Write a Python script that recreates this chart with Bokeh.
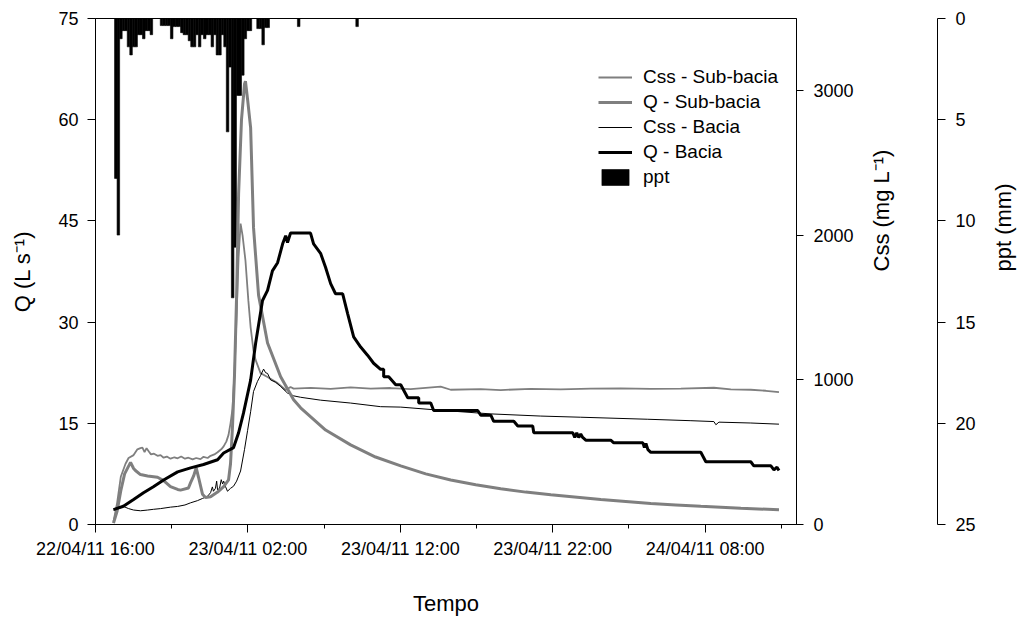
import math
import pandas as pd
from bokeh.plotting import figure
from bokeh.models import (Range1d, LinearAxis, FixedTicker, DatetimeTickFormatter,
                          ColumnDataSource, Legend, LegendItem)
from bokeh.embed import file_html
from bokeh.resources import INLINE

# ---------------- data ----------------
T0 = pd.Timestamp("2011-04-22 16:00")
T_END = pd.Timestamp("2011-04-24 14:00")

# Q - Sub-bacia (hours since T0, L/s)
qsub_h = [1.18, 1.42, 1.66, 1.91, 2.30, 2.50, 2.62, 2.95, 3.42, 4.07,
          4.47, 4.92, 5.39, 5.58, 6.10, 6.24, 6.44, 6.61, 6.76, 7.02,
          7.22, 7.55, 8.01, 8.41, 8.73, 8.86, 8.99, 9.12, 9.26, 9.39,
          9.58, 9.78, 9.84, 9.98, 10.18, 10.37, 10.70, 11.29, 12.15, 13.00,
          13.46, 15.10, 16.74, 18.38, 20.03, 21.67, 23.31, 24.95, 26.59, 28.23,
          29.88, 33.16, 34.80, 36.44, 38.08, 39.72, 42.35, 44.85]
qsub_v = [0.2, 2.0, 5.0, 7.5, 9.2, 8.3, 8.0, 7.4, 7.2, 7.0,
          6.5, 5.6, 5.2, 5.1, 5.4, 6.2, 7.2, 8.4, 7.0, 4.5,
          4.0, 4.1, 4.8, 5.6, 6.6, 9.0, 14.5, 22.0, 34.0, 49.0,
          60.0, 65.3, 65.7, 63.0, 58.8, 44.0, 34.0, 26.9, 21.9, 18.5,
          17.3, 14.0, 11.8, 10.0, 8.7, 7.5, 6.6, 5.9, 5.3, 4.8,
          4.4, 3.7, 3.4, 3.1, 2.9, 2.7, 2.4, 2.2]

# Css - Sub-bacia (hours since T0, mg/L)
csub_h = [1.18, 1.42, 1.66, 1.97, 2.17, 2.50, 2.75, 2.95, 3.08, 3.22,
          3.35, 3.50, 3.64, 3.84, 4.07, 4.27, 4.47, 4.68, 4.92, 5.18,
          5.39, 5.62, 5.87, 6.10, 6.37, 6.61, 6.89, 7.09, 7.36, 7.55,
          7.80, 8.01, 8.25, 8.41, 8.59, 8.73, 8.86, 8.99, 9.12, 9.26,
          9.39, 9.52, 9.65, 9.84, 10.03, 10.18, 10.37, 10.51, 10.83, 11.29,
          11.95, 12.48, 12.80, 13.00, 14.12, 15.43, 16.74, 18.06, 19.37, 20.68,
          22.65, 23.31, 25.28, 26.59, 28.56, 30.53, 32.50, 34.47, 36.44, 38.41,
          40.58, 41.69, 43.00, 43.99, 44.85]
csub_v = [20, 150, 330, 420, 460, 480, 520, 528, 532, 500,
          528, 505, 485, 490, 475, 480, 462, 470, 455, 465,
          458, 470, 455, 462, 450, 460, 452, 468, 460, 475,
          485, 500, 520, 540, 575, 620, 700, 800, 1050, 1450,
          1850, 2081, 2000, 1826, 1550, 1364, 1200, 1137, 1047, 1020,
          978, 930, 951, 940, 945, 938, 948, 940, 944, 936,
          953, 932, 936, 930, 938, 935, 940, 942, 938, 940,
          946, 935, 932, 925, 915]

# Css - Bacia (hours since T0, mg/L)
cbac_h = [1.18, 1.42, 1.83, 2.17, 2.50, 2.95, 3.42, 3.80, 4.27, 4.92,
          5.39, 5.87, 6.24, 6.69, 7.02, 7.35, 7.55, 7.67, 7.74, 7.87,
          7.95, 8.01, 8.14, 8.25, 8.34, 8.41, 8.54, 8.66, 8.86, 9.06,
          9.26, 9.52, 9.78, 9.98, 10.18, 10.37, 10.63, 10.83, 11.03, 11.16,
          11.29, 11.49, 11.81, 12.15, 12.60, 13.00, 13.46, 14.77, 16.74, 18.71,
          20.03, 22.65, 25.94, 29.22, 31.84, 36.24, 39.07, 40.58, 40.71, 40.91,
          43.00, 44.85]
cbac_v = [100, 115, 125, 110, 100, 95, 100, 105, 110, 120,
          125, 135, 150, 165, 180, 195, 220, 260, 230, 250,
          300, 240, 250, 310, 280, 300, 260, 230, 250, 265,
          300, 370, 520, 650, 780, 920, 990, 1030, 1075, 1050,
          1045, 1000, 985, 955, 909, 890, 880, 860, 840, 815,
          812, 790, 765, 750, 742, 728, 718, 712, 690, 708,
          702, 694]

# Q - Bacia (hours since T0, L/s)
qbac_h = [1.18, 1.83, 2.50, 3.15, 3.80, 4.47, 5.39, 6.24, 7.09, 8.01,
          8.41, 9.06, 9.39, 9.71, 10.18, 10.51, 10.96, 11.29, 11.61, 11.95,
          12.28, 12.48, 12.60, 12.80, 14.11, 14.31, 14.77, 15.10, 15.43, 15.75,
          16.22, 16.54, 16.94, 17.40, 17.85, 18.25, 18.71, 18.91, 18.91, 19.24,
          19.70, 20.03, 20.49, 21.21, 21.21, 22.00, 22.19, 25.08, 25.28, 25.94,
          26.13, 27.45, 27.71, 28.69, 28.76, 31.32, 31.45, 31.58, 31.71, 31.84,
          31.97, 32.17, 33.81, 34.01, 35.92, 36.02, 36.12, 36.25, 36.44, 39.72,
          40.05, 43.00, 43.20, 44.32, 44.52, 44.72, 44.85]
qbac_v = [2.2, 2.7, 3.7, 4.7, 5.6, 6.6, 7.8, 8.4, 8.9, 9.6,
          10.6, 11.4, 13.6, 16.5, 21.4, 26.9, 33.2, 34.7, 37.6, 38.8,
          41.6, 42.8, 41.8, 43.2, 43.2, 41.6, 40.2, 38.1, 35.7, 34.2,
          34.2, 31.3, 27.8, 26.3, 25.1, 23.9, 23.0, 23.0, 21.9, 21.9,
          20.7, 20.7, 18.8, 18.8, 18.0, 18.0, 16.9, 16.9, 16.2, 16.2,
          15.3, 15.3, 14.6, 14.6, 13.6, 13.6, 12.9, 13.6, 12.9, 13.4,
          12.9, 12.5, 12.5, 12.1, 12.1, 11.4, 12.0, 11.1, 10.7, 10.7,
          9.3, 9.3, 8.7, 8.7, 8.1, 8.5, 8.0]

# ppt (mm per 10 min), first bar centred at 22/04/11 17:20
ppt_start = "2011-04-22 17:20"
ppt_mm = [7.9, 10.7, 1.0, 0.6, 0.6, 1.4, 1.8, 1.4, 1.4, 0.8,
          0.8, 1.0, 0.6, 0.6, 0.8, 0, 0, 0, 0.35, 0.35,
          0.35, 0.35, 1.0, 0.4, 0.4, 0.4, 0.7, 0.8, 0.8, 1.1,
          1.4, 1.4, 0.8, 1.4, 0.8, 1.0, 0.8, 0.8, 1.4, 0.8,
          1.8, 1.8, 0.8, 1.4, 5.6, 2.4, 13.8, 11.3, 3.8, 3.8,
          2.8, 1.0, 0.6, 0.6, 0, 0, 0.5, 0.5, 1.3, 0.45,
          0.45, 0, 0, 0, 0, 0, 0, 0, 0, 0,
          0, 0, 0.4, 0, 0, 0, 0, 0, 0, 0,
          0, 0, 0, 0, 0, 0, 0, 0, 0, 0,
          0, 0, 0, 0, 0, 0.4]

x_ticks = ["2011-04-22 16:00", "2011-04-23 02:00", "2011-04-23 12:00",
           "2011-04-23 22:00", "2011-04-24 08:00"]
x_minor = ["2011-04-22 21:00", "2011-04-23 07:00", "2011-04-23 17:00",
           "2011-04-24 03:00", "2011-04-24 13:00"]
q_ticks = [0, 15, 30, 45, 60, 75]
css_ticks = [0, 1000, 2000, 3000]
ppt_ticks = [0, 5, 10, 15, 20, 25]

# ---------------- helpers ----------------
def to_time(hours):
    return [T0 + pd.Timedelta(hours=h) for h in hours]

def ms(s):
    return pd.Timestamp(s).value // 10**6

FONT = "Liberation Sans"

# ---------------- figure ----------------
p = figure(frame_width=701, frame_height=506,
           x_axis_type="datetime",
           x_range=Range1d(T0.to_pydatetime(), T_END.to_pydatetime()),
           y_range=Range1d(0, 75),
           output_backend="svg", toolbar_location=None,
           min_border_left=95, min_border_top=18,
           min_border_right=0, min_border_bottom=0)
p.extra_y_ranges = {"css": Range1d(0, 3500), "ppt": Range1d(25, 0)}
p.xgrid.visible = False
p.ygrid.visible = False
p.outline_line_color = "black"
p.outline_line_width = 1
p.background_fill_color = "white"
p.border_fill_color = "white"

ppt_times = pd.date_range(ppt_start, periods=len(ppt_mm), freq="10min")
ppt_src = ColumnDataSource(dict(t=ppt_times, v=ppt_mm))
r_ppt = p.vbar(x="t", top="v", bottom=0, width=600000, source=ppt_src,
               y_range_name="ppt", fill_color="black",
               line_color="black", line_width=0.6)

r_csub = p.line(to_time(csub_h), csub_v, y_range_name="css",
                line_color="#7f7f7f", line_width=1.8)
r_cbac = p.line(to_time(cbac_h), cbac_v, y_range_name="css",
                line_color="black", line_width=1)
r_qsub = p.line(to_time(qsub_h), qsub_v, line_color="#7f7f7f", line_width=3)
r_qbac = p.line(to_time(qbac_h), qbac_v, line_color="black", line_width=3)


def style(ax, label, size_lab="22px"):
    ax.axis_label = label
    ax.axis_label_text_font = FONT
    ax.axis_label_text_font_size = size_lab
    ax.axis_label_text_font_style = "normal"
    ax.axis_label_text_color = "black"
    ax.major_label_text_font = FONT
    ax.major_label_text_font_size = "18px"
    ax.major_label_text_color = "black"
    ax.axis_line_color = "black"
    ax.major_tick_line_color = "black"
    ax.minor_tick_line_color = "black"
    ax.major_tick_in = 0
    ax.major_tick_out = 8
    ax.minor_tick_in = 0
    ax.minor_tick_out = 0


# left axis
ly = p.yaxis[0]
style(ly, "Q (L s\u207b\u00b9)")
ly.ticker = FixedTicker(ticks=q_ticks)
ly.major_label_standoff = 9
ly.axis_label_standoff = 20

# bottom axis
bx = p.xaxis[0]
style(bx, "Tempo")
bx.ticker = FixedTicker(ticks=[ms(t) for t in x_ticks],
                        minor_ticks=[ms(t) for t in x_minor])
fmt = "%d/%m/%y %H:%M"
bx.formatter = DatetimeTickFormatter(microseconds=fmt, milliseconds=fmt,
                                     seconds=fmt, minsec=fmt, minutes=fmt,
                                     hourmin=fmt, hours=fmt, days=fmt,
                                     months=fmt, years=fmt)
bx.minor_tick_out = 4
bx.major_label_standoff = 6
bx.axis_label_standoff = 29

# Css axis (right, next to frame)
css_ax = LinearAxis(y_range_name="css")
style(css_ax, "Css (mg L\u207b\u00b9)")
css_ax.ticker = FixedTicker(ticks=css_ticks)
css_ax.major_tick_out = 7
css_ax.major_label_standoff = 10
css_ax.axis_label_standoff = 25
css_ax.axis_label_orientation = math.pi / 2
p.add_layout(css_ax, "right")

# invisible spacer between the two right axes: a single blank tick label
spacer = LinearAxis(y_range_name="css", ticker=FixedTicker(ticks=[0]),
                    major_label_overrides={0: " "},
                    axis_line_color=None, major_tick_line_color=None,
                    minor_tick_line_color=None,
                    major_tick_out=0, major_tick_in=0,
                    minor_tick_out=0, minor_tick_in=0,
                    major_label_text_font=FONT,
                    major_label_text_font_size="18px",
                    major_label_standoff=20)
p.add_layout(spacer, "right")

# ppt axis (inverted)
ppt_ax = LinearAxis(y_range_name="ppt")
style(ppt_ax, "ppt (mm)")
ppt_ax.ticker = FixedTicker(ticks=ppt_ticks)
ppt_ax.major_label_standoff = 10
ppt_ax.axis_label_standoff = 25
ppt_ax.axis_label_orientation = math.pi / 2
p.add_layout(ppt_ax, "right")

legend = Legend(items=[
    LegendItem(label="Css - Sub-bacia", renderers=[r_csub]),
    LegendItem(label="Q - Sub-bacia", renderers=[r_qsub]),
    LegendItem(label="Css - Bacia", renderers=[r_cbac]),
    LegendItem(label="Q - Bacia", renderers=[r_qbac]),
    LegendItem(label="ppt", renderers=[r_ppt]),
], location=(503, 336))
legend.label_text_font = FONT
legend.label_text_font_size = "19px"
legend.label_text_color = "black"
legend.glyph_width = 34
legend.glyph_height = 20
legend.label_height = 20
legend.spacing = 3
legend.padding = 0
legend.margin = 0
legend.label_standoff = 11
legend.border_line_color = None
legend.background_fill_alpha = 0
p.add_layout(legend)

open("out.html", "w").write(file_html(p, INLINE))
